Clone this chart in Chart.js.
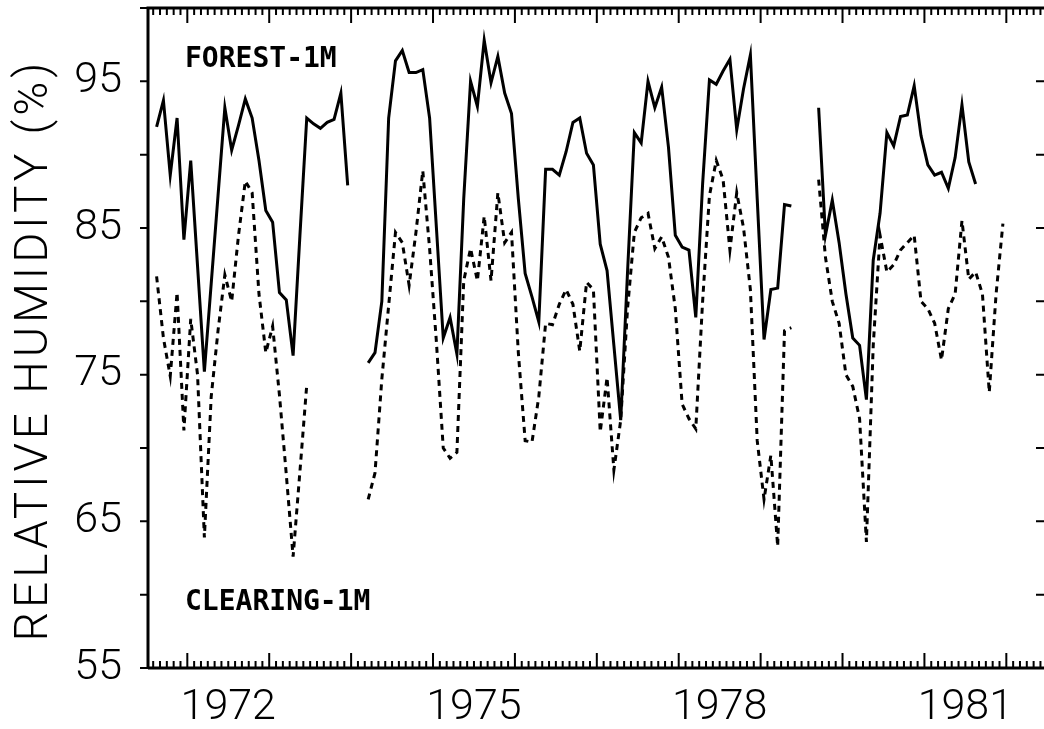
<!DOCTYPE html>
<html>
<head>
<meta charset="utf-8">
<script src="https://cdn.jsdelivr.net/npm/chart.js@4.4.1/dist/chart.umd.min.js"></script>
<style>
  html, body { margin: 0; background: #fff; overflow: hidden; }
  #wrap { width: 1044px; height: 729px; position: relative; }
</style>
</head>
<body>
<div id="wrap"><canvas id="rh"></canvas></div>
<script>
// ---------- Data: monthly mean relative humidity (%), Aug 1971 .. Dec 1981 ----------
const START_YEAR = 1971;
const START_MONTH = 7; // 0-based, Aug
const forest = [
  91.9, 93.7, 88.6, 92.5, 84.2,                                           // 1971 Aug-Dec
  89.6, 82.4, 75.2, 81.2, 87.2, 93.2, 90.3, 92.0, 93.8, 92.5, 89.6, 86.2, // 1972
  85.4, 80.6, 80.1, 76.3, 84.5, 92.5, 92.1, 91.8, 92.2, 92.4, 94.2, 87.9, // 1973
  null, null, 75.8, 76.5, 80.0, 92.5, 96.4, 97.1, 95.6, 95.6, 95.8, 92.5, // 1974
  85.0, 77.5, 78.9, 76.4, 87.0, 95.0, 93.3, 97.8, 94.9, 96.7, 94.2, 92.8, // 1975
  87.0, 81.9, 80.3, 78.6, 89.0, 89.0, 88.6, 90.2, 92.2, 92.5, 90.1, 89.3, // 1976
  83.9, 82.1, 77.0, 71.9, 82.0, 91.5, 90.8, 95.0, 93.2, 94.6, 90.5, 84.5, // 1977
  83.7, 83.5, 78.9, 88.0, 95.1, 94.8, 95.7, 96.5, 91.7, 94.5, 96.8, 87.0, // 1978
  77.4, 80.8, 80.9, 86.6, 86.5, null, null, null, 93.2, 84.5, 86.9, 84.0, // 1979
  80.5, 77.5, 77.0, 73.3, 82.8, 86.0, 91.5, 90.6, 92.6, 92.7, 94.7, 91.3, // 1980
  89.3, 88.6, 88.8, 87.7, 89.8, 93.4, 89.5, 88.0, null, null, null, null  // 1981
];
const clearing = [
  81.7, 77.5, 74.9, 80.6, 71.2,                                           // 1971 Aug-Dec
  78.8, 75.0, 63.9, 73.5, 78.0, 81.8, 80.0, 84.5, 88.2, 87.4, 80.5, 76.5, // 1972
  78.3, 73.6, 68.2, 62.6, 68.4, 74.3, null, null, null, null, null, null, // 1973
  null, null, 66.5, 68.3, 74.7, 79.7, 84.7, 84.0, 81.1, 84.7, 88.9, 83.6, // 1974
  77.2, 70.0, 69.3, 69.7, 81.4, 83.6, 81.4, 85.8, 81.4, 87.4, 84.0, 84.7, // 1975
  76.5, 70.5, 70.4, 73.5, 78.5, 78.4, 79.8, 80.8, 79.8, 76.6, 81.3, 80.8, // 1976
  71.1, 74.8, 68.5, 71.9, 79.5, 84.7, 85.7, 86.0, 83.6, 84.4, 83.0, 79.5, // 1977
  73.0, 72.0, 71.3, 80.0, 87.2, 89.6, 88.3, 83.5, 87.4, 85.0, 80.8, 70.5, // 1978
  66.5, 69.5, 63.3, 78.0, 78.2, null, null, null, 88.3, 83.0, 80.0, 78.5, // 1979
  75.0, 74.2, 72.0, 63.6, 77.0, 84.5, 82.0, 82.5, 83.5, 84.0, 84.5, 80.0, // 1980
  79.5, 78.5, 76.0, 79.5, 80.5, 85.5, 81.5, 82.0, 80.5, 73.8, 80.5, 85.3  // 1981
];
const yearLabels = [1972, 1975, 1978, 1981];
const yTickValues = [55, 65, 75, 85, 95];
const seriesNames = ['FOREST-1M', 'CLEARING-1M'];
const yTitle = 'RELATIVE HUMIDITY (%)';

// mid-month position in decimal years
const monthPos = forest.map((_, i) => START_YEAR + (START_MONTH + i + 0.5) / 12);
const toXY = arr => arr.map((v, i) => ({ x: monthPos[i], y: v }));

const FONT_FAMILY = 'Roboto, "Liberation Sans", sans-serif';
const TICK_FONT = { family: FONT_FAMILY, size: 43, weight: '300' };

// ---------- Frame with ruler ticks (inward, monthly minor / yearly major) ----------
const framePlugin = {
  id: 'frame',
  afterDatasetsDraw(chart) {
    const { ctx, chartArea: a, scales: { x, y } } = chart;
    ctx.save();
    ctx.strokeStyle = '#000';
    ctx.lineCap = 'butt';
    ctx.lineWidth = 3;
    ctx.beginPath();
    ctx.moveTo(a.left, a.bottom); ctx.lineTo(a.left, a.top); ctx.lineTo(a.right, a.top);
    ctx.moveTo(a.left, a.bottom); ctx.lineTo(a.right, a.bottom);
    ctx.stroke();

    ctx.lineWidth = 2;
    ctx.beginPath();
    for (let m = Math.ceil(x.min * 12); m <= x.max * 12; m++) {
      const px = x.getPixelForValue(m / 12);
      const len = m % 12 === 0 ? 15 : 7;
      ctx.moveTo(px, a.top); ctx.lineTo(px, a.top + len);
      ctx.moveTo(px, a.bottom); ctx.lineTo(px, a.bottom - len);
    }
    for (let v = 55; v <= 100; v += 5) {
      const py = y.getPixelForValue(v);
      ctx.moveTo(a.left - 8, py); ctx.lineTo(a.left, py);
      ctx.moveTo(a.right - 8, py); ctx.lineTo(a.right, py);
    }
    ctx.stroke();

    // series labels
    ctx.fillStyle = '#000';
    ctx.font = 'bold 28px "DejaVu Sans Mono", monospace';
    ctx.textBaseline = 'middle';
    ctx.fillText(seriesNames[0], a.left + 37, 60);
    ctx.fillText(seriesNames[1], a.left + 37, 603);

    // y axis title, rotated, letter-spaced like the plotter lettering
    ctx.save();
    ctx.translate(35, 350);
    ctx.rotate(-Math.PI / 2);
    ctx.font = `300 46px ${FONT_FAMILY}`;
    ctx.letterSpacing = '4px';
    ctx.textAlign = 'center';
    ctx.fillText(yTitle, 0, 0);
    ctx.restore();
    ctx.restore();
  }
};

new Chart(document.getElementById('rh'), {
  type: 'line',
  data: {
    datasets: [
      { label: seriesNames[0], data: toXY(forest), borderColor: '#000', borderWidth: 3,
        pointRadius: 0, tension: 0, spanGaps: false },
      { label: seriesNames[1], data: toXY(clearing), borderColor: '#000', borderWidth: 3,
        borderDash: [6, 5], pointRadius: 0, tension: 0, spanGaps: false },
    ],
  },
  options: {
    responsive: true,
    maintainAspectRatio: false,
    animation: false,
    layout: { padding: { top: 8, right: 0, left: 0, bottom: 0 } },
    plugins: { legend: { display: false }, tooltip: { enabled: false } },
    scales: {
      x: {
        type: 'linear', min: 1971.52, max: 1982.46,
        afterBuildTicks: s => { s.ticks = yearLabels.map(yr => ({ value: yr + 0.5 })); },
        afterFit: s => { s.height = 61; s.paddingLeft = 0; s.paddingRight = 0; },
        grid: { display: false, drawTicks: false }, border: { display: false },
        ticks: { color: '#000', font: TICK_FONT, padding: 14, maxRotation: 0,
                 callback: v => String(Math.floor(v)) },
      },
      y: {
        min: 55, max: 100,
        afterBuildTicks: s => { s.ticks = yTickValues.map(v => ({ value: v })); },
        afterFit: s => { s.width = 148; s.paddingTop = 0; s.paddingBottom = 0; },
        grid: { display: false, drawTicks: false }, border: { display: false },
        ticks: { color: '#000', font: TICK_FONT, padding: 26 },
      },
    },
  },
  plugins: [framePlugin],
});
</script>
</body>
</html>
